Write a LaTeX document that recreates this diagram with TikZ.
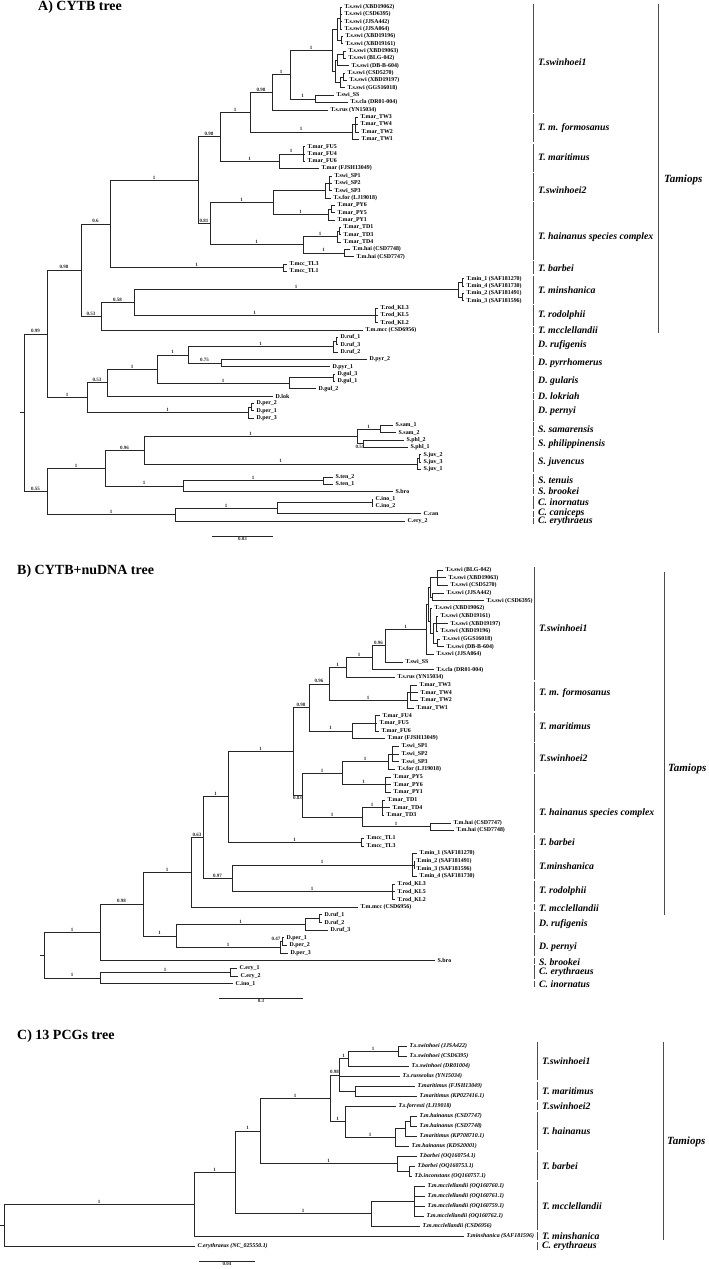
\documentclass[tikz,border=0pt]{standalone}
\usepackage{fontspec}
\setmainfont{Liberation Serif}
\usepackage{tikz}

\tikzset{
  branch/.style={black!85, line width=0.6pt},
  sup/.style={pos=0.75, above, inner sep=0.7pt, font=\fontsize{5}{5.5}\selectfont\bfseries},
  tiplab/.style={anchor=west, inner xsep=2.5pt, inner ysep=0.3pt, font=\fontsize{5.9}{6}\selectfont\bfseries},
  tipit/.style={tiplab, font=\fontsize{5.9}{6}\selectfont\bfseries\itshape},
  cbar/.style={black!70, line width=0.8pt},
  cladelab/.style={anchor=west, inner sep=0pt, font=\fontsize{9.8}{11}\selectfont\bfseries\itshape},
  genlab/.style={cladelab, font=\fontsize{11}{13}\selectfont\bfseries\itshape},
  paneltitle/.style={anchor=west, inner sep=0pt, font=\fontsize{14}{16}\selectfont\bfseries},
  scalelab/.style={below, inner sep=1pt, font=\fontsize{5}{5.5}\selectfont\bfseries},
}
% leaf: coordinate at the branch tip and its label
\newcommand{\leaf}[5][tiplab]{\coordinate (#2) at (#3,#4); \node[#1] (#2-l) at (#2) {#5};}
% branch with posterior value
\newcommand{\cnx}[3]{\draw[branch] (#1) |- (#2) node[sup] {#3};}
\newcommand{\kids}[2]{\foreach \ch in {#2} {\draw[branch] (#1) |- (\ch);}}
% clade bar: name, x, top, bottom, label y, text
\newcommand{\cladebar}[6]{\draw[cbar] (#2,#3) -- (#2,#4); \node[cladelab] (#1) at (#2+5,#5) {#6};}

\begin{document}
\begin{tikzpicture}[x=1pt, y=-1pt]
\path[fill=white, use as bounding box] (0,0) rectangle (709,1269);

%%%%%%%%%% A) CYTB tree
\node[paneltitle] (ttlA) at (38,7) {A) CYTB tree};
\leaf{a1}{342}{7.0}{T.s.swi (XBD19062)}
\leaf{a2}{342}{14.3}{T.s.swi (CSD6395)}
\leaf{a3}{342}{21.7}{T.s.swi (JJSA442)}
\leaf{a4}{342}{29.0}{T.s.swi (JJSA064)}
\leaf{a5}{343}{36.4}{T.s.swi (XBD19196)}
\leaf{a6}{343}{43.7}{T.s.swi (XBD19161)}
\leaf{a7}{346}{51.0}{T.s.swi (XBD19063)}
\leaf{a8}{346}{58.4}{T.s.swi (BLG-042)}
\leaf{a9}{349}{65.7}{T.s.swi (DB-B-604)}
\leaf{a10}{345}{73.1}{T.s.swi (CSD5270)}
\leaf{a11}{347}{80.4}{T.s.swi (XBD19197)}
\leaf{a12}{345}{87.7}{T.s.swi (GGS16018)}
\leaf{a13}{334}{95.1}{T.swi\_SS}
\leaf{a14}{348}{102.4}{T.s.cla (DR01-004)}
\leaf{a15}{328}{109.8}{T.s.rus (YN15034)}
\leaf{a16}{358}{117.1}{T.mar\_TW3}
\leaf{a17}{358}{124.4}{T.mar\_TW4}
\leaf{a18}{359}{131.8}{T.mar\_TW2}
\leaf{a19}{359}{139.1}{T.mar\_TW1}
\leaf{a20}{305}{146.5}{T.mar\_FU5}
\leaf{a21}{305}{153.8}{T.mar\_FU4}
\leaf{a22}{305}{161.1}{T.mar\_FU6}
\leaf{a23}{319}{168.5}{T.mar (FJSH13049)}
\leaf{a24}{332}{175.8}{T.swi\_SP1}
\leaf{a25}{332}{183.2}{T.swi\_SP2}
\leaf{a26}{332}{190.5}{T.swi\_SP3}
\leaf{a27}{331}{197.8}{T.s.for (LJ19018)}
\leaf{a28}{335}{205.2}{T.mar\_PY6}
\leaf{a29}{335}{212.5}{T.mar\_PY5}
\leaf{a30}{335}{219.9}{T.mar\_PY1}
\leaf{a31}{341}{227.2}{T.mar\_TD1}
\leaf{a32}{341}{234.5}{T.mar\_TD3}
\leaf{a33}{341}{241.9}{T.mar\_TD4}
\leaf{a34}{350}{249.2}{T.m.hai (CSD7748)}
\leaf{a35}{354}{256.6}{T.m.hai (CSD7747)}
\leaf{a36}{287}{263.9}{T.mcc\_TL3}
\leaf{a37}{287}{271.2}{T.mcc\_TL1}
\leaf{a38}{464}{278.6}{T.min\_1 (SAF181270)}
\leaf{a39}{464}{285.9}{T.min\_4 (SAF181730)}
\leaf{a40}{464}{293.3}{T.min\_2 (SAF181491)}
\leaf{a41}{464}{300.6}{T.min\_3 (SAF181596)}
\leaf{a42}{378}{307.9}{T.rod\_KL3}
\leaf{a43}{378}{315.3}{T.rod\_KL5}
\leaf{a44}{378}{322.6}{T.rod\_KL2}
\leaf{a45}{363}{330.0}{T.m.mcc (CSD6956)}
\leaf{a46}{338}{337.3}{D.ruf\_1}
\leaf{a47}{338}{344.6}{D.ruf\_3}
\leaf{a48}{338}{352.0}{D.ruf\_2}
\leaf{a49}{367}{359.3}{D.pyr\_2}
\leaf{a50}{330}{366.7}{D.pyr\_1}
\leaf{a51}{335}{374.0}{D.gul\_3}
\leaf{a52}{335}{381.3}{D.gul\_1}
\leaf{a53}{316}{388.7}{D.gul\_2}
\leaf{a54}{273}{396.0}{D.lok}
\leaf{a55}{254}{403.4}{D.per\_2}
\leaf{a56}{254}{410.7}{D.per\_1}
\leaf{a57}{254}{418.0}{D.per\_3}
\leaf{a58}{393}{425.4}{S.sam\_1}
\leaf{a59}{396}{432.7}{S.sam\_2}
\leaf{a60}{404}{440.1}{S.phl\_2}
\leaf{a61}{408}{447.4}{S.phl\_1}
\leaf{a62}{421}{454.7}{S.juv\_2}
\leaf{a63}{421}{462.1}{S.juv\_3}
\leaf{a64}{421}{469.4}{S.juv\_1}
\leaf{a65}{333}{476.8}{S.ten\_2}
\leaf{a66}{333}{484.1}{S.ten\_1}
\leaf{a67}{393}{491.4}{S.bro}
\leaf{a68}{373}{498.8}{C.ino\_1}
\leaf{a69}{373}{506.1}{C.ino\_2}
\leaf{a70}{421}{513.5}{C.can}
\leaf{a71}{405}{520.8}{C.ery\_2}

\coordinate (as1a) at (340,18);
\coordinate (as1b) at (341,40);
\coordinate (as1) at (337,29);
\coordinate (as2s) at (343,54.7);
\coordinate (as2) at (337,60.2);
\coordinate (as3s) at (343,76.8);
\coordinate (as3) at (340,82.2);
\coordinate (as23) at (335,71.2);
\coordinate (an1e) at (332,50.1);
\coordinate (an1f) at (315,98.8);
\coordinate (an1d) at (290,74.5);
\coordinate (an98c) at (272,92.2);
\coordinate (atws) at (355,124.4);
\coordinate (atw) at (352,131.8);
\coordinate (an1c) at (250,112);
\coordinate (afus) at (303,153.8);
\coordinate (afu) at (279,161.2);
\coordinate (an98b) at (220,136.6);
\coordinate (asps) at (329,183.2);
\coordinate (asp) at (325,190.5);
\coordinate (apys) at (331,208.9);
\coordinate (apy) at (328,214.4);
\coordinate (an273) at (273,202.5);
\coordinate (atds) at (339,230.9);
\coordinate (atd) at (337,236.4);
\coordinate (ahai) at (344,252.9);
\coordinate (an303) at (303,244.7);
\coordinate (an81) at (210,223.6);
\coordinate (an1a) at (198,180.1);
\coordinate (atl) at (283,267.6);
\coordinate (an06) at (110,223.9);
\coordinate (amina) at (462,282.3);
\coordinate (aminb) at (462,297);
\coordinate (amin) at (458,289.6);
\coordinate (arod) at (375,315.3);
\coordinate (an58) at (134,302.5);
\coordinate (an53) at (101,316.2);
\coordinate (an98a) at (81,270);
\coordinate (arufs) at (336,341);
\coordinate (aruf) at (333,346.5);
\coordinate (an75) at (221,363);
\coordinate (an1F) at (188,354.8);
\coordinate (aguls) at (333,377.7);
\coordinate (agul) at (289,383.2);
\coordinate (an1E) at (157,369);
\coordinate (an53b) at (107,382.5);
\coordinate (apers) at (251,407);
\coordinate (aper) at (248,412.5);
\coordinate (an1D) at (87,397.5);
\coordinate (an99) at (47,333.8);
\coordinate (asam) at (380,429);
\coordinate (aphl) at (363,443.7);
\coordinate (asamphl) at (357,436.4);
\coordinate (ajuvs) at (419,458.4);
\coordinate (ajuv) at (417,463.9);
\coordinate (an96) at (144,450.1);
\coordinate (aten) at (323,480.4);
\coordinate (an183) at (183,485.9);
\coordinate (an1G) at (105,468);
\coordinate (aino) at (372,502.4);
\coordinate (an277) at (277,508);
\coordinate (an1H) at (175,514.4);
\coordinate (an55) at (47,491.2);
\coordinate (aroot) at (24,412.5);
\coordinate (astub) at (20,412.5);

\draw[branch] (astub) -- (aroot);
\cnx{aroot}{an99}{0.99}
\cnx{aroot}{an55}{0.55}
\cnx{an99}{an98a}{0.98}
\cnx{an99}{an1D}{1}
\cnx{an98a}{an06}{0.6}
\cnx{an98a}{an53}{0.53}
\cnx{an06}{an1a}{1}
\cnx{an06}{atl}{1}
\kids{atl}{a36,a37}
\cnx{an1a}{an98b}{0.98}
\cnx{an1a}{an81}{0.81}
\cnx{an98b}{an1c}{1}
\cnx{an98b}{afu}{1}
\cnx{an1c}{an98c}{0.98}
\cnx{an1c}{atw}{1}
\cnx{an98c}{an1d}{1}
\kids{an98c}{a15}
\cnx{an1d}{an1e}{1}
\cnx{an1d}{an1f}{1}
\kids{an1e}{as1,as23}
\kids{as1}{as1a,as1b}
\kids{as1a}{a1,a2,a3,a4}
\kids{as1b}{a5,a6}
\kids{as23}{as2,as3}
\kids{as2}{as2s,a9}
\kids{as2s}{a7,a8}
\kids{as3}{as3s,a12}
\kids{as3s}{a10,a11}
\kids{an1f}{a13,a14}
\kids{atw}{atws,a19}
\kids{atws}{a16,a17,a18}
\cnx{afu}{afus}{1}
\kids{afu}{a23}
\kids{afus}{a20,a21,a22}
\cnx{an81}{an273}{1}
\cnx{an81}{an303}{1}
\kids{an273}{asp}
\cnx{an273}{apy}{1}
\kids{asp}{asps,a27}
\kids{asps}{a24,a25,a26}
\kids{apy}{apys,a30}
\kids{apys}{a28,a29}
\cnx{an303}{atd}{1}
\cnx{an303}{ahai}{1}
\kids{atd}{atds,a33}
\kids{atds}{a31,a32}
\kids{ahai}{a34,a35}
\cnx{an53}{an58}{0.58}
\kids{an53}{a45}
\cnx{an58}{amin}{1}
\cnx{an58}{arod}{1}
\kids{amin}{amina,aminb}
\kids{amina}{a38,a39}
\kids{aminb}{a40,a41}
\kids{arod}{a42,a43,a44}
\cnx{an1D}{an53b}{0.53}
\cnx{an1D}{aper}{1}
\cnx{an53b}{an1E}{1}
\kids{an53b}{a54}
\cnx{an1E}{an1F}{1}
\cnx{an1E}{agul}{1}
\cnx{an1F}{aruf}{1}
\cnx{an1F}{an75}{0.75}
\kids{aruf}{arufs,a48}
\kids{arufs}{a46,a47}
\kids{an75}{a49,a50}
\kids{agul}{aguls,a53}
\kids{aguls}{a51,a52}
\kids{aper}{apers,a57}
\kids{apers}{a55,a56}
\cnx{an55}{an1G}{1}
\cnx{an55}{an1H}{1}
\cnx{an1G}{an96}{0.96}
\cnx{an1G}{an183}{1}
\cnx{an96}{asamphl}{1}
\cnx{an96}{ajuv}{1}
\cnx{asamphl}{asam}{1}
\draw[branch] (asamphl) |- (aphl) node[sup, below] {0.51};
\kids{asam}{a58,a59}
\kids{aphl}{a60,a61}
\kids{ajuv}{ajuvs,a64}
\kids{ajuvs}{a62,a63}
\cnx{an183}{aten}{1}
\kids{an183}{a67}
\kids{aten}{a65,a66}
\cnx{an1H}{an277}{1}
\kids{an1H}{a71}
\kids{an277}{aino,a70}
\kids{aino}{a68,a69}

\coordinate (asb1) at (212,536);
\coordinate (asb2) at (273,536);
\draw[branch] (asb1) -- (asb2) node[midway, scalelab] {0.03};

\cladebar{aT1}{533}{4}{112.8}{62}{T.swinhoei1}
\cladebar{aT2}{533}{114.1}{142.1}{128}{T. m. formosanus}
\cladebar{aT3}{533}{143.5}{171.5}{157}{T. maritimus}
\cladebar{aT4}{533}{172.8}{200.8}{190}{T.swinhoei2}
\cladebar{aT5}{533}{202.2}{259.6}{237}{T. hainanus species complex}
\cladebar{aT6}{533}{260.9}{274.2}{268}{T. barbei}
\cladebar{aT7}{533}{275.6}{303.6}{290}{T. minshanica}
\cladebar{aT8}{533}{304.9}{325.6}{315}{T. rodolphii}
\cladebar{aT9}{533}{327}{333}{330}{T. mcclellandii}
\cladebar{aD1}{533}{334.3}{355}{345}{D. rufigenis}
\cladebar{aD2}{533}{356.3}{369.7}{363}{D. pyrrhomerus}
\cladebar{aD3}{533}{371}{391.7}{381}{D. gularis}
\cladebar{aD4}{533}{393}{399}{396}{D. lokriah}
\cladebar{aD5}{533}{400.4}{421}{411}{D. pernyi}
\cladebar{aS1}{533}{422.4}{435.7}{429}{S. samarensis}
\cladebar{aS2}{533}{437.1}{450.4}{444}{S. philippinensis}
\cladebar{aS3}{533}{451.7}{472.4}{462}{S. juvencus}
\cladebar{aS4}{533}{473.8}{487.1}{480}{S. tenuis}
\cladebar{aS5}{533}{488.4}{494.4}{491}{S. brookei}
\cladebar{aC1}{533}{495.8}{509.1}{502}{C. inornatus}
\cladebar{aC2}{533}{510.5}{516.5}{513}{C. caniceps}
\cladebar{aC3}{533}{517.8}{523.8}{521}{C. erythraeus}
\draw[cbar] (658,4) -- (658,333);
\node[genlab] (aTam) at (664,180) {Tamiops};

%%%%%%%%%% B) CYTB+nuDNA tree
\node[paneltitle] (ttlB) at (17,571) {B) CYTB+nuDNA tree};
\leaf{b1}{443}{570.0}{T.s.swi (BLG-042)}
\leaf{b2}{446}{577.7}{T.s.swi (XBD19063)}
\leaf{b3}{448}{585.3}{T.s.swi (CSD5270)}
\leaf{b4}{444}{593.0}{T.s.swi (JJSA442)}
\leaf{b5}{484}{600.6}{T.s.swi (CSD6395)}
\leaf{b6}{432}{608.3}{T.s.swi (XBD19062)}
\leaf{b7}{438}{616.0}{T.s.swi (XBD19161)}
\leaf{b8}{448}{623.6}{T.s.swi (XBD19197)}
\leaf{b9}{438}{631.3}{T.s.swi (XBD19196)}
\leaf{b10}{440}{638.9}{T.s.swi (GGS16018)}
\leaf{b11}{444}{646.6}{T.s.swi (DB-B-604)}
\leaf{b12}{434}{654.3}{T.s.swi (JJSA064)}
\leaf{b13}{403}{661.9}{T.swi\_SS}
\leaf{b14}{434}{669.6}{T.s.cla (DR01-004)}
\leaf{b15}{395}{677.2}{T.s.rus (YN15034)}
\leaf{b16}{417}{684.9}{T.mar\_TW3}
\leaf{b17}{418}{692.6}{T.mar\_TW4}
\leaf{b18}{418}{700.2}{T.mar\_TW2}
\leaf{b19}{414}{707.9}{T.mar\_TW1}
\leaf{b20}{380}{715.5}{T.mar\_FU4}
\leaf{b21}{377}{723.2}{T.mar\_FU5}
\leaf{b22}{379}{730.9}{T.mar\_FU6}
\leaf{b23}{385}{738.5}{T.mar (FJSH13049)}
\leaf{b24}{399}{746.2}{T.swi\_SP1}
\leaf{b25}{399}{753.8}{T.swi\_SP2}
\leaf{b26}{399}{761.5}{T.swi\_SP3}
\leaf{b27}{395}{769.2}{T.s.for (LJ19018)}
\leaf{b28}{391}{776.8}{T.mar\_PY5}
\leaf{b29}{391}{784.5}{T.mar\_PY6}
\leaf{b30}{391}{792.1}{T.mar\_PY1}
\leaf{b31}{385}{799.8}{T.mar\_TD1}
\leaf{b32}{390}{807.5}{T.mar\_TD4}
\leaf{b33}{384}{815.1}{T.mar\_TD3}
\leaf{b34}{451}{822.8}{T.m.hai (CSD7747)}
\leaf{b35}{454}{830.4}{T.m.hai (CSD7748)}
\leaf{b36}{364}{838.1}{T.mcc\_TL1}
\leaf{b37}{364}{845.8}{T.mcc\_TL3}
\leaf{b38}{417}{853.4}{T.min\_1 (SAF181270)}
\leaf{b39}{414}{861.1}{T.min\_2 (SAF181491)}
\leaf{b40}{414}{868.7}{T.min\_3 (SAF181596)}
\leaf{b41}{417}{876.4}{T.min\_4 (SAF181730)}
\leaf{b42}{395}{884.1}{T.rod\_KL3}
\leaf{b43}{395}{891.7}{T.rod\_KL5}
\leaf{b44}{395}{899.4}{T.rod\_KL2}
\leaf{b45}{358}{907.0}{T.m.mcc (CSD6956)}
\leaf{b46}{322}{914.7}{D.ruf\_1}
\leaf{b47}{322}{922.4}{D.ruf\_2}
\leaf{b48}{328}{930.0}{D.ruf\_3}
\leaf{b49}{284}{937.7}{D.per\_1}
\leaf{b50}{287}{945.3}{D.per\_2}
\leaf{b51}{288}{953.0}{D.per\_3}
\leaf{b52}{435}{960.7}{S.bro}
\leaf{b53}{237}{968.3}{C.ery\_1}
\leaf{b54}{238}{976.0}{C.ery\_2}
\leaf{b55}{233}{983.6}{C.ino\_1}

\coordinate (bsp1) at (437,577.7);
\coordinate (bsp2) at (432,596.8);
\coordinate (bsp) at (430,587.2);
\coordinate (bsq3) at (436,623.6);
\coordinate (bsq4) at (437,642.8);
\coordinate (bsq2) at (433,633.2);
\coordinate (bsq) at (430,620.8);
\coordinate (bsx) at (428,604);
\coordinate (bn1b7) at (426,629.2);
\coordinate (bn96b) at (385,645.6);
\coordinate (bn1b6) at (372,657.6);
\coordinate (bn1b5) at (346,667.4);
\coordinate (btws) at (410,692.6);
\coordinate (btw) at (407,700.2);
\coordinate (bn96) at (329,683.8);
\coordinate (bfus) at (375,723.2);
\coordinate (bfu) at (352,730.9);
\coordinate (bn98b) at (309,707.3);
\coordinate (bsps) at (392,753.8);
\coordinate (bspn) at (388,761.5);
\coordinate (bpy) at (385,784.5);
\coordinate (bn1b8) at (342,773);
\coordinate (btd) at (382,807.5);
\coordinate (bhai) at (430,826.6);
\coordinate (bn1b9) at (362,817);
\coordinate (bn83) at (302,795);
\coordinate (bn1b4) at (293,751.2);
\coordinate (btl) at (361,842);
\coordinate (bn1b3) at (228,796.6);
\coordinate (bmins) at (414,864.9);
\coordinate (bmin) at (412,864.9);
\coordinate (brod) at (392,891.7);
\coordinate (bn97) at (232,878.3);
\coordinate (bn63) at (203,837.5);
\coordinate (bn1b2) at (191,872.3);
\coordinate (brufs) at (319,918.5);
\coordinate (bruf) at (305,924.3);
\coordinate (bpers) at (282,941.5);
\coordinate (bper) at (280,947.3);
\coordinate (bn1b10) at (176,935.8);
\coordinate (bn98) at (143,904);
\coordinate (bn1) at (100,932.4);
\coordinate (bery) at (230,972.2);
\coordinate (bn2) at (100,977.9);
\coordinate (broot) at (44,955.2);
\coordinate (bstub) at (40,955.2);

\draw[branch] (bstub) -- (broot);
\cnx{broot}{bn1}{1}
\cnx{broot}{bn2}{1}
\cnx{bn1}{bn98}{0.98}
\kids{bn1}{b52}
\cnx{bn98}{bn1b2}{1}
\cnx{bn98}{bn1b10}{1}
\cnx{bn1b2}{bn63}{0.63}
\kids{bn1b2}{b45}
\cnx{bn63}{bn1b3}{1}
\cnx{bn63}{bn97}{0.97}
\cnx{bn1b3}{bn1b4}{1}
\cnx{bn1b3}{btl}{1}
\kids{btl}{b36,b37}
\cnx{bn1b4}{bn98b}{0.98}
\draw[branch] (bn1b4) |- (bn83) node[sup, below] {0.83};
\cnx{bn98b}{bn96}{0.96}
\cnx{bn98b}{bfu}{1}
\cnx{bn96}{bn1b5}{1}
\cnx{bn96}{btw}{1}
\cnx{bn1b5}{bn1b6}{1}
\kids{bn1b5}{b15}
\cnx{bn1b6}{bn96b}{0.96}
\kids{bn1b6}{b14}
\cnx{bn96b}{bn1b7}{1}
\kids{bn96b}{b13}
\kids{bn1b7}{bsx,b12}
\kids{bsx}{bsp,bsq}
\kids{bsp}{bsp1,bsp2}
\kids{bsp1}{b1,b2,b3}
\kids{bsp2}{b4,b5}
\kids{bsq}{b6,bsq2}
\kids{bsq2}{bsq3,bsq4}
\kids{bsq3}{b7,b8,b9}
\kids{bsq4}{b10,b11}
\kids{btw}{btws,b19}
\kids{btws}{b16,b17,b18}
\kids{bfu}{bfus,b23}
\kids{bfus}{b20,b21,b22}
\cnx{bn83}{bn1b8}{1}
\cnx{bn83}{bn1b9}{1}
\cnx{bn1b8}{bspn}{1}
\cnx{bn1b8}{bpy}{1}
\kids{bspn}{bsps,b27}
\kids{bsps}{b24,b25,b26}
\kids{bpy}{b28,b29,b30}
\cnx{bn1b9}{btd}{1}
\cnx{bn1b9}{bhai}{1}
\kids{btd}{b31,b32,b33}
\kids{bhai}{b34,b35}
\cnx{bn97}{bmin}{1}
\cnx{bn97}{brod}{1}
\kids{bmin}{b38,bmins,b41}
\kids{bmins}{b39,b40}
\kids{brod}{b42,b43,b44}
\cnx{bn1b10}{bruf}{1}
\cnx{bn1b10}{bper}{1}
\kids{bruf}{brufs,b48}
\kids{brufs}{b46,b47}
\draw[branch] (bper) |- (bpers) node[sup, above left, inner sep=0.3pt] {0.47};
\kids{bper}{b51}
\kids{bpers}{b49,b50}
\cnx{bn2}{bery}{1}
\kids{bn2}{b55}
\kids{bery}{b53,b54}

\coordinate (bsb1) at (219,998);
\coordinate (bsb2) at (303,998);
\draw[branch] (bsb1) -- (bsb2) node[midway, scalelab] {0.3};

\cladebar{bT1}{534}{567}{680.2}{628}{T.swinhoei1}
\cladebar{bT2}{534}{681.9}{710.9}{693}{T. m. formosanus}
\cladebar{bT3}{534}{712.5}{741.5}{726}{T. maritimus}
\cladebar{bT4}{534}{743.2}{772.2}{758}{T.swinhoei2}
\cladebar{bT5}{534}{773.8}{833.4}{813}{T. hainanus species complex}
\cladebar{bT6}{534}{835.1}{848.8}{842}{T. barbei}
\cladebar{bT7}{534}{850.4}{879.4}{866}{T.minshanica}
\cladebar{bT8}{534}{881.1}{902.4}{891}{T. rodolphii}
\cladebar{bT9}{534}{904}{910}{908}{T. mcclellandii}
\cladebar{bD1}{534}{911.7}{933}{924}{D. rufigenis}
\cladebar{bD2}{534}{934.7}{956}{947}{D. pernyi}
\cladebar{bS1}{534}{957.7}{963.7}{962}{S. brookei}
\cladebar{bC1}{534}{965.3}{979}{972}{C. erythraeus}
\cladebar{bC2}{534}{980.6}{986.6}{984}{C. inornatus}
\draw[cbar] (664,572) -- (664,915);
\node[genlab] (bTam) at (668,769) {Tamiops};

%%%%%%%%%% C) 13 PCGs tree
\node[paneltitle] (ttlC) at (17,1036) {C) 13 PCGs tree};
\leaf[tipit]{c0}{407}{1046}{T.s.swinhoei (JJSA422)}
\leaf[tipit]{c1}{407}{1056}{T.s.swinhoei (CSD6395)}
\leaf[tipit]{c2}{409}{1066}{T.s.swinhoei (DR01004)}
\leaf[tipit]{c3}{400}{1076}{T.s.russeolus (YN15034)}
\leaf[tipit]{c4}{415}{1086}{T.maritimus (FJSH13049)}
\leaf[tipit]{c5}{417}{1096}{T.maritimus (KP027416.1)}
\leaf[tipit]{c6}{396}{1106}{T.s.forresti (LJ19018)}
\leaf[tipit]{c7}{417}{1116}{T.m.hainanus (CSD7747)}
\leaf[tipit]{c8}{417}{1126}{T.m.hainanus (CSD7748)}
\leaf[tipit]{c9}{417}{1136}{T.maritimus (KP708710.1)}
\leaf[tipit]{c10}{409}{1146}{T.m.hainanus (KDS20001)}
\leaf[tipit]{c11}{417}{1156}{T.barbei (OQ160754.1)}
\leaf[tipit]{c12}{415}{1166}{T.barbei (OQ160753.1)}
\leaf[tipit]{c13}{412}{1176}{T.b.inconstans (OQ160757.1)}
\leaf[tipit]{c14}{425}{1186}{T.m.mcclellandii (OQ160760.1)}
\leaf[tipit]{c15}{425}{1196}{T.m.mcclellandii (OQ160761.1)}
\leaf[tipit]{c16}{425}{1206}{T.m.mcclellandii (OQ160759.1)}
\leaf[tipit]{c17}{424}{1216}{T.m.mcclellandii (OQ160762.1)}
\leaf[tipit]{c18}{420}{1226}{T.m.mcclellandii (CSD6956)}
\leaf[tipit]{c19}{464}{1236}{T.minshanica (SAF181596)}
\leaf[tipit]{c20}{195}{1246}{C.erythraeus (NC\_025550.1)}

\coordinate (csw) at (398,1051);
\coordinate (cn6) at (348,1058.5);
\coordinate (cmar) at (355,1091);
\coordinate (cn5) at (339,1074.8);
\coordinate (chai11) at (410,1121);
\coordinate (chai1) at (405,1128.5);
\coordinate (chai) at (395,1137.3);
\coordinate (cfs) at (345,1121.6);
\coordinate (cn4) at (330,1098.2);
\coordinate (cbar1) at (409,1171);
\coordinate (cbarb) at (397,1163.5);
\coordinate (cn3) at (260,1130.9);
\coordinate (cmcc1) at (414,1201);
\coordinate (cmcc) at (371,1213.5);
\coordinate (cn2) at (235,1172.2);
\coordinate (cn1) at (194,1204.1);
\coordinate (croot) at (4,1225);
\coordinate (cstub) at (0,1225);

\draw[branch] (cstub) -- (croot);
\cnx{croot}{cn1}{1}
\kids{croot}{c20}
\cnx{cn1}{cn2}{1}
\kids{cn1}{c19}
\cnx{cn2}{cn3}{1}
\cnx{cn2}{cmcc}{1}
\cnx{cn3}{cn4}{1}
\cnx{cn3}{cbarb}{1}
\cnx{cn4}{cn5}{0.98}
\cnx{cn4}{cfs}{1}
\cnx{cn5}{cn6}{1}
\kids{cn5}{c3,cmar}
\cnx{cn6}{csw}{1}
\kids{cn6}{c2}
\kids{csw}{c0,c1}
\kids{cmar}{c4,c5}
\kids{cfs}{c6}
\cnx{cfs}{chai}{1}
\kids{chai}{chai1,c10}
\kids{chai1}{chai11,c9}
\kids{chai11}{c7,c8}
\kids{cbarb}{c11,cbar1}
\kids{cbar1}{c12,c13}
\kids{cmcc}{cmcc1,c18}
\kids{cmcc1}{c14,c15,c16,c17}

\coordinate (csb1) at (199,1261);
\coordinate (csb2) at (255,1261);
\draw[branch] (csb1) -- (csb2) node[midway, scalelab] {0.04};

\cladebar{cT1}{537}{1042}{1080}{1061}{T.swinhoei1}
\cladebar{cT2}{537}{1082}{1100}{1091}{T. maritimus}
\cladebar{cT3}{537}{1102}{1110}{1106}{T.swinhoei2}
\cladebar{cT4}{537}{1112}{1150}{1131}{T. hainanus}
\cladebar{cT5}{537}{1152}{1180}{1166}{T. barbei}
\cladebar{cT6}{537}{1182}{1230}{1206}{T. mcclellandii}
\cladebar{cT7}{537}{1232}{1240}{1236}{T. minshanica}
\cladebar{cC1}{537}{1242}{1250}{1246}{C. erythraeus}
\draw[cbar] (663,1042) -- (663,1240);
\node[genlab] (cTam) at (667,1142) {Tamiops};
\end{tikzpicture}
\end{document}
